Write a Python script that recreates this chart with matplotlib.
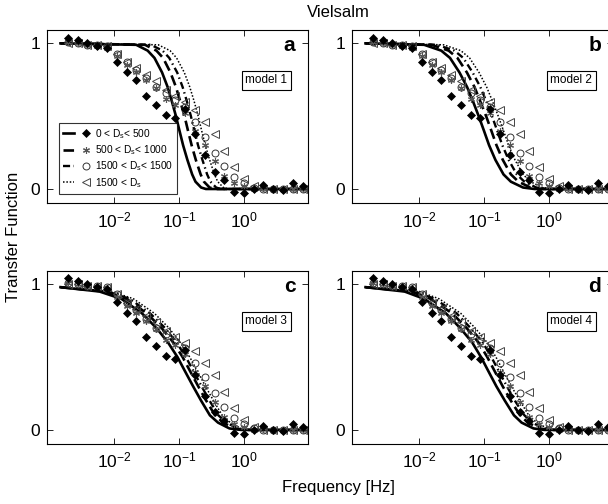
import matplotlib.pyplot as plt
from matplotlib.legend_handler import HandlerTuple

plt.rcParams["font.family"] = ["Liberation Sans", "DejaVu Sans"]
plt.rcParams["mathtext.default"] = "regular"

# observed transfer function (same in every panel)
freq = [0.00195, 0.00276, 0.0039, 0.0055, 0.0078, 0.011, 0.0156, 0.0221, 0.0313,
        0.0442, 0.0625, 0.0884, 0.125, 0.177, 0.25, 0.354, 0.5, 0.707, 1.0, 1.41,
        2.0, 2.83, 4.0, 5.66, 8.0]
obs_0_500 = [1.04, 1.02, 1.0, 0.98, 0.97, 0.875, 0.80, 0.75, 0.64, 0.575, 0.51, 0.49,
             0.55, 0.38, 0.23, 0.12, 0.06, -0.02, -0.025, 0.0, 0.03, 0.0, -0.01, 0.04, 0.02]
obs_500_1000 = [1.01, 1.0, 0.99, 0.98, 0.97, 0.91, 0.85, 0.80, 0.75, 0.69, 0.62, 0.58,
                0.52, 0.40, 0.30, 0.19, 0.09, 0.04, 0.02, 0.0, 0.01, 0.0, 0.0, 0.0, 0.0]
obs_1000_1500 = [1.01, 1.0, 0.99, 0.99, 0.98, 0.93, 0.87, 0.82, 0.76, 0.70, 0.66, 0.61,
                 0.56, 0.46, 0.36, 0.25, 0.16, 0.08, 0.04, 0.01, 0.0, 0.0, 0.0, 0.0, 0.0]
obs_1500 = [1.0, 1.0, 0.99, 0.99, 0.98, 0.93, 0.87, 0.83, 0.78, 0.74, 0.68, 0.64,
            0.60, 0.54, 0.46, 0.38, 0.26, 0.15, 0.07, 0.02, 0.0, 0.0, 0.0, 0.0, 0.0]

class_labels = ["0 < D$_s$< 500", "500 < D$_s$< 1000", "1500 < D$_s$< 1500", "1500 < D$_s$"]

# model curves: levels of the transfer function and the frequency where each curve hits them
levels_12 = [1.0, 0.99, 0.95, 0.9, 0.8, 0.7, 0.6, 0.5, 0.4, 0.3, 0.2, 0.1, 0.05, 0.01, 0.0, 0.0]
levels_34 = [0.98, 0.95, 0.9, 0.8, 0.7, 0.6, 0.5, 0.4, 0.3, 0.2, 0.1, 0.05, 0.01, 0.0, 0.0]

m1_f = [
    [0.0015, 0.022, 0.033, 0.042, 0.055, 0.067, 0.078, 0.09, 0.102, 0.116, 0.135, 0.16, 0.18, 0.22, 0.26, 8.5],
    [0.0015, 0.030, 0.045, 0.057, 0.074, 0.090, 0.105, 0.122, 0.138, 0.157, 0.182, 0.216, 0.243, 0.297, 0.35, 8.5],
    [0.0015, 0.037, 0.056, 0.071, 0.094, 0.114, 0.133, 0.153, 0.173, 0.197, 0.23, 0.272, 0.306, 0.374, 0.44, 8.5],
    [0.0015, 0.048, 0.073, 0.092, 0.121, 0.147, 0.172, 0.198, 0.224, 0.255, 0.297, 0.352, 0.396, 0.484, 0.57, 8.5],
]
m2_f = [
    [0.0015, 0.012, 0.022, 0.03, 0.042, 0.055, 0.068, 0.083, 0.1, 0.12, 0.15, 0.2, 0.26, 0.4, 0.6, 8.5],
    [0.0015, 0.0156, 0.0286, 0.039, 0.0546, 0.0715, 0.088, 0.108, 0.13, 0.156, 0.195, 0.26, 0.34, 0.52, 0.78, 8.5],
    [0.0015, 0.019, 0.035, 0.048, 0.067, 0.088, 0.109, 0.133, 0.16, 0.192, 0.24, 0.32, 0.42, 0.64, 0.96, 8.5],
    [0.0015, 0.024, 0.044, 0.06, 0.084, 0.11, 0.136, 0.166, 0.2, 0.24, 0.3, 0.4, 0.52, 0.8, 1.2, 8.5],
]
m3_f = [
    [0.0015, 0.006, 0.013, 0.027, 0.045, 0.068, 0.095, 0.125, 0.165, 0.22, 0.3, 0.4, 0.6, 0.9, 8.5],
    [0.0015, 0.0072, 0.0156, 0.032, 0.054, 0.082, 0.114, 0.15, 0.198, 0.264, 0.36, 0.48, 0.72, 1.0, 8.5],
    [0.0015, 0.008, 0.0175, 0.036, 0.061, 0.092, 0.128, 0.169, 0.223, 0.297, 0.405, 0.54, 0.8, 1.1, 8.5],
    [0.0015, 0.0093, 0.020, 0.042, 0.07, 0.105, 0.147, 0.194, 0.256, 0.341, 0.465, 0.62, 0.9, 1.3, 8.5],
]
m4_f = [
    [0.0015, 0.006, 0.012, 0.026, 0.043, 0.066, 0.09, 0.118, 0.155, 0.21, 0.29, 0.38, 0.58, 0.85, 8.5],
    [0.0015, 0.0075, 0.015, 0.0325, 0.054, 0.0825, 0.1125, 0.1475, 0.194, 0.26, 0.36, 0.475, 0.72, 1.0, 8.5],
    [0.0015, 0.0087, 0.0174, 0.038, 0.062, 0.096, 0.13, 0.171, 0.225, 0.30, 0.42, 0.55, 0.84, 1.15, 8.5],
    [0.0015, 0.0102, 0.0204, 0.044, 0.073, 0.112, 0.153, 0.2, 0.264, 0.357, 0.49, 0.65, 0.95, 1.3, 8.5],
]

models = [("model 1", "a", levels_12, m1_f),
          ("model 2", "b", levels_12, m2_f),
          ("model 3", "c", levels_34, m3_f),
          ("model 4", "d", levels_34, m4_f)]

observations = [obs_0_500, obs_500_1000, obs_1000_1500, obs_1500]

line_styles = [
    dict(linestyle="-", lw=1.9),
    dict(linestyle=(0, (4, 2)), lw=1.9),
    dict(linestyle=(0, (3, 1.5, 0.6, 1.5)), lw=1.7),
    dict(linestyle=(0, (1, 1.2)), lw=1.1),
]
marker_styles = [
    dict(marker="D", ms=3.8, mfc="black", mec="black", mew=0.5),
    dict(marker=(6, 2, 0), ms=5, mfc="none", mec="#555555", mew=0.8),
    dict(marker="o", ms=5, mfc="none", mec="#333333", mew=0.7),
    dict(marker="<", ms=5.5, mfc="none", mec="#444444", mew=0.7),
]

positions = [(0.0773, 0.597, 0.429, 0.343), (0.579, 0.597, 0.429, 0.343),
             (0.0773, 0.119, 0.429, 0.343), (0.579, 0.119, 0.429, 0.343)]

fig = plt.figure(figsize=(6.08, 5.04), dpi=100)

for pos, (name, letter, levels, curves) in zip(positions, models):
    ax = fig.add_axes(pos)
    line_handles = []
    for f_curve, ls in zip(curves, line_styles):
        (ln,) = ax.plot(f_curve, levels, color="black", **ls)
        line_handles.append(ln)
    marker_handles = [None] * 4
    for i in [3, 2, 1, 0]:
        (mk,) = ax.plot(freq, observations[i], linestyle="none", **marker_styles[i])
        marker_handles[i] = mk

    ax.set_xscale("log")
    ax.set_xlim(0.00093, 9.66)
    ax.set_ylim(-0.097, 1.09)
    ax.set_xticks([1e-2, 1e-1, 1e0])
    ax.set_xticklabels(["$10^{-2}$", "$10^{-1}$", "$10^{0}$"])
    ax.xaxis.set_minor_locator(plt.NullLocator())
    ax.set_yticks([0, 1])
    ax.set_yticklabels(["0", "1"])
    ax.tick_params(direction="in", top=True, right=True, length=4, width=0.6,
                   labelsize=12.5, pad=5)
    for sp in ax.spines.values():
        sp.set_linewidth(0.8)

    ax.text(0.93, 0.91, letter, transform=ax.transAxes, fontsize=15,
            fontweight="bold", ha="center", va="center")
    ax.text(0.84, 0.71, name, transform=ax.transAxes, fontsize=8.5,
            ha="center", va="center",
            bbox=dict(boxstyle="square,pad=0.3", fc="white", ec="black", lw=0.8))

    if letter == "a":
        handles = [(l, m) for l, m in zip(line_handles, marker_handles)]
        leg = ax.legend(handles, class_labels, loc="lower left",
                        bbox_to_anchor=(0.045, 0.055), borderaxespad=0,
                        handler_map={tuple: HandlerTuple(ndivide=None, pad=0.6)},
                        handlelength=2.8, handletextpad=0.4, labelspacing=0.25,
                        fontsize=7.3, frameon=True, fancybox=False,
                        borderpad=0.4)
        leg.get_frame().set_edgecolor("black")
        leg.get_frame().set_linewidth(0.8)

fig.text(0.556, 0.975, "Vielsalm", fontsize=12, ha="center", va="center")
fig.text(0.022, 0.53, "Transfer Function", fontsize=12, ha="center", va="center",
         rotation=90)
fig.text(0.556, 0.032, "Frequency [Hz]", fontsize=12, ha="center", va="center")

fig.savefig("out.png", dpi=100)
